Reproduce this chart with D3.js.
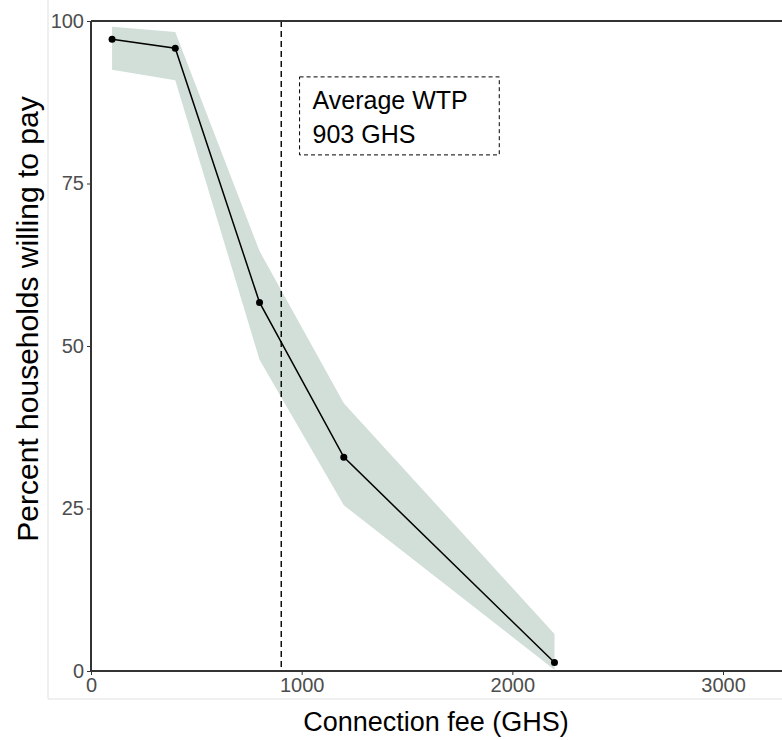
<!DOCTYPE html>
<html>
<head>
<meta charset="utf-8">
<script src="https://cdn.jsdelivr.net/npm/d3@7"></script>
<style>
  body { margin: 0; background: #fff; }
  svg { display: block; font-family: "Liberation Sans", Arial, Helvetica, sans-serif; }
</style>
</head>
<body>
<script>
// data
const fees = [100, 400, 800, 1200, 2200];
const pctWilling = [97.2, 95.8, 56.7, 32.9, 1.3];
const ciUpper = [99.1, 98.3, 64.6, 41.2, 5.7];
const ciLower = [92.5, 90.9, 47.9, 25.5, 0.2];
const avgWtp = 903;
const noteLines = ["Average WTP", "903 GHS"];
const xTicks = [0, 1000, 2000, 3000];
const yTicks = [0, 25, 50, 75, 100];

const width = 782, height = 740;
const margin = {top: 21, right: 0, bottom: 69, left: 91};

const svg = d3.select("body").append("svg")
    .attr("width", width)
    .attr("height", height);

// light outer border (plot background)
svg.append("line")
    .attr("x1", 48).attr("x2", 48).attr("y1", 0).attr("y2", 699)
    .attr("stroke", "#e0e0e0").attr("stroke-width", 1);
svg.append("line")
    .attr("x1", 48).attr("x2", width).attr("y1", 699).attr("y2", 699)
    .attr("stroke", "#e0e0e0").attr("stroke-width", 1);

const x = d3.scaleLinear()
    .domain([0, 3280])
    .range([margin.left, width]);
const y = d3.scaleLinear()
    .domain([0, 100])
    .range([height - margin.bottom - 0, margin.top]);

const rows = fees.map((f, i) => ({f: f, p: pctWilling[i], lo: ciLower[i], hi: ciUpper[i]}));

// confidence ribbon
svg.append("path")
    .datum(rows)
    .attr("fill", "#d1dfd8")
    .attr("d", d3.area()
        .x(d => x(d.f))
        .y0(d => y(d.lo))
        .y1(d => y(d.hi)));

// average WTP line
svg.append("line")
    .attr("x1", x(avgWtp)).attr("x2", x(avgWtp))
    .attr("y1", y(100)).attr("y2", y(0))
    .attr("stroke", "#000")
    .attr("stroke-width", 1.4)
    .attr("stroke-dasharray", "6,4");

// main line + points
svg.append("path")
    .datum(rows)
    .attr("fill", "none")
    .attr("stroke", "#000")
    .attr("stroke-width", 1.5)
    .attr("d", d3.line().x(d => x(d.f)).y(d => y(d.p)));

svg.selectAll(".pt")
    .data(rows)
    .enter().append("circle")
    .attr("class", "pt")
    .attr("cx", d => x(d.f))
    .attr("cy", d => y(d.p))
    .attr("r", 3.5)
    .attr("fill", "#000");

// annotation box
const boxX0 = x(990), boxX1 = x(1938), boxY0 = y(91.4), boxY1 = y(79.4);
svg.append("rect")
    .attr("x", boxX0).attr("y", boxY0)
    .attr("width", boxX1 - boxX0).attr("height", boxY1 - boxY0)
    .attr("fill", "#fff")
    .attr("stroke", "#000")
    .attr("stroke-width", 1)
    .attr("stroke-dasharray", "4,3");
svg.selectAll(".note")
    .data(noteLines)
    .enter().append("text")
    .attr("class", "note")
    .attr("x", boxX0 + 13)
    .attr("y", (d, i) => boxY0 + 32 + i * 34)
    .attr("font-size", 25)
    .attr("fill", "#000")
    .text(d => d);

// axes
const xAxis = d3.axisBottom(x).tickValues(xTicks).tickSize(4).tickPadding(3).tickFormat(d3.format("d"));
const yAxis = d3.axisLeft(y).tickValues(yTicks).tickSize(4).tickPadding(3);

const gx = svg.append("g")
    .attr("transform", `translate(0,${y(0)})`)
    .call(xAxis);
const gy = svg.append("g")
    .attr("transform", `translate(${margin.left},0)`)
    .call(yAxis);

[gx, gy].forEach(g => {
    g.select(".domain").attr("stroke", "#333").attr("stroke-width", 2);
    g.selectAll(".tick line").attr("stroke", "#333").attr("stroke-width", 1);
    g.selectAll(".tick text")
        .attr("font-size", 20)
        .attr("fill", "#4d4d4d")
        .attr("font-family", "Liberation Sans, Arial, sans-serif");
});
gx.select(".domain").attr("d", `M${margin.left},0H${width}`);
gy.select(".domain").attr("d", `M0,${y(0)}V${y(100)}`);

// top border
svg.append("line")
    .attr("x1", margin.left).attr("x2", width)
    .attr("y1", y(100)).attr("y2", y(100))
    .attr("stroke", "#333").attr("stroke-width", 2);

// axis titles
svg.append("text")
    .attr("x", 436)
    .attr("y", 731)
    .attr("text-anchor", "middle")
    .attr("font-size", 27)
    .attr("fill", "#000")
    .text("Connection fee (GHS)");

svg.append("text")
    .attr("transform", "translate(38,319) rotate(-90)")
    .attr("text-anchor", "middle")
    .attr("font-size", 30)
    .attr("fill", "#000")
    .text("Percent households willing to pay");
</script>
</body>
</html>
